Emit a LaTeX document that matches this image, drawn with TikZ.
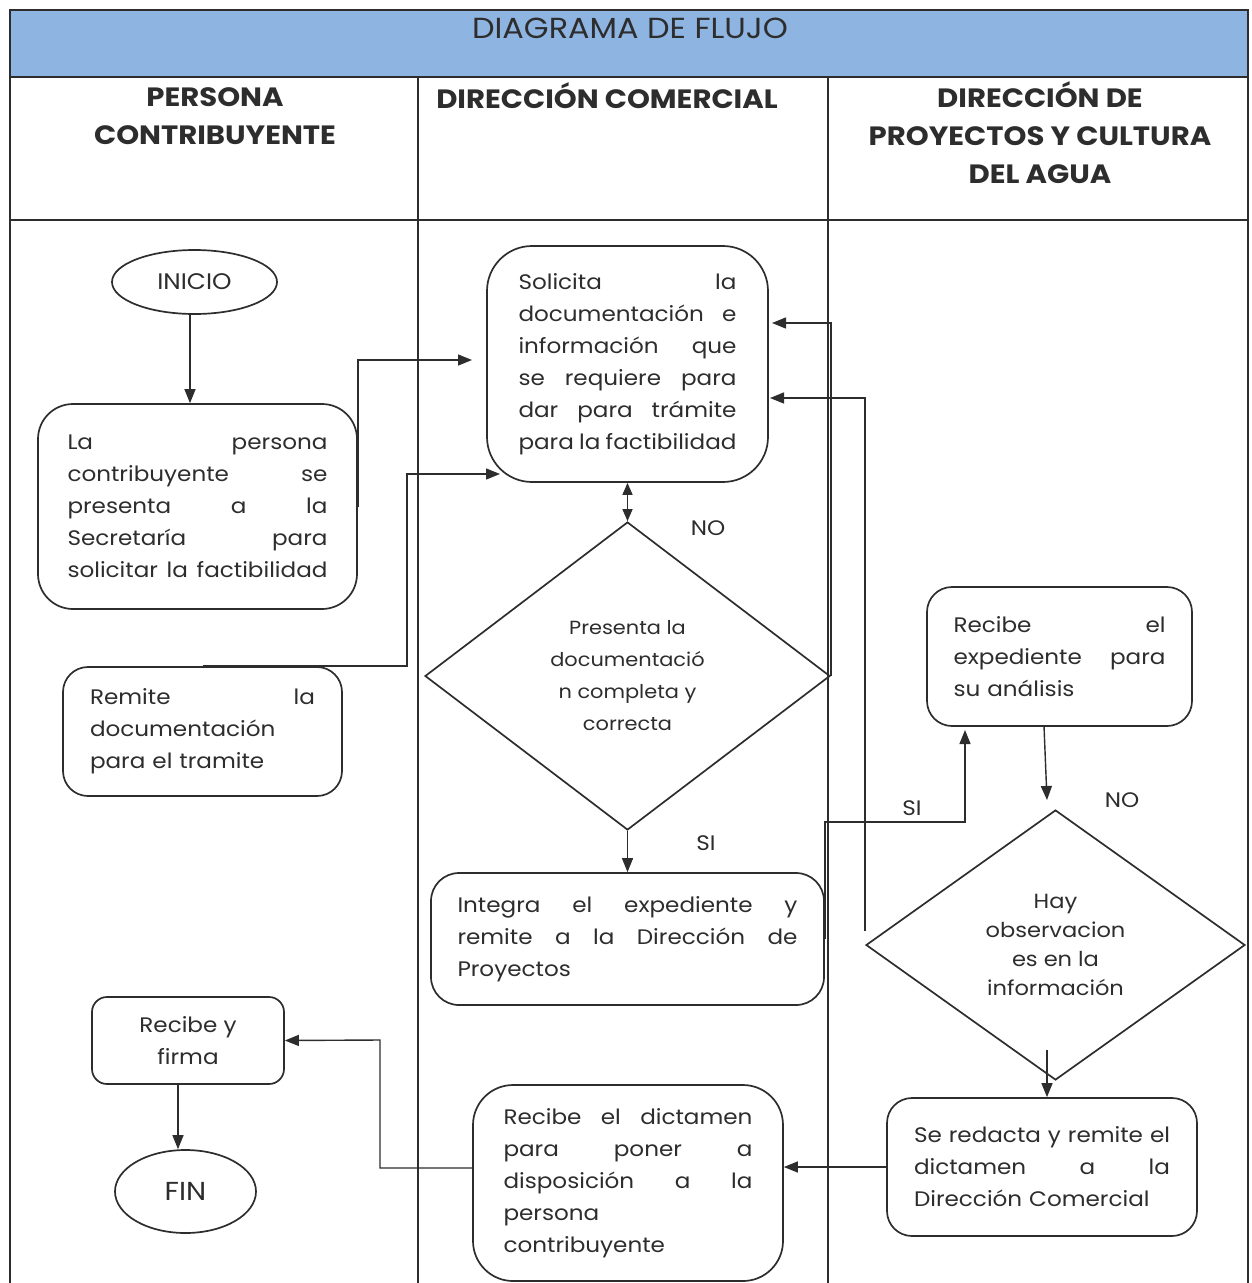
\documentclass[tikz,border=0pt]{standalone}
\usepackage{fontspec}
\setmainfont{Poppins}[FakeStretch=1.1]
\usetikzlibrary{arrows.meta,shapes.geometric,calc}
\definecolor{ink}{RGB}{45,45,45}
\definecolor{band}{RGB}{142,180,226}

\begin{document}
\begin{tikzpicture}[x=1pt,y=-1pt,
  every node/.style={text=ink},
  body/.style={font=\fontsize{21}{32}\selectfont},
  head/.style={font=\fontsize{26.5}{38}\selectfont\bfseries, align=center},
  proc/.style={draw=ink, line width=1.7pt, body, align=left, inner sep=0pt},
  term/.style={draw=ink, line width=1.7pt, ellipse, inner sep=0pt},
  decision/.style={draw=ink, line width=1.7pt, diamond, inner sep=0pt, align=center},
  grid/.style={draw=ink, line width=1.2pt},
  link/.style={draw=ink, line width=1.4pt},
  arr/.style={link, -{Triangle[length=14pt,width=11pt]}},
  arrboth/.style={link, {Triangle[length=12pt,width=10pt]}-{Triangle[length=12pt,width=10pt]}},
  lbl/.style={font=\fontsize{21}{24}\selectfont}
]
\useasboundingbox (0,0) rectangle (1251,1283);

% swimlane table
\fill[band] (10,10) rectangle (1248,77);
\draw[grid] (10,1283) -- (10,10) -- (1248,10) -- (1248,1283);
\draw[draw=ink, line width=2pt] (10,77) -- (1248,77);
\draw[grid] (10,220) -- (1248,220);
\draw[grid] (418,77) -- (418,1283);
\draw[grid] (828,77) -- (828,1283);

\node[font=\fontsize{29}{32}\selectfont] (title) at (630,28) {DIAGRAMA DE FLUJO};
\node[head] (lane1) at (215,116) {PERSONA\\CONTRIBUYENTE};
\node[head] (lane2) at (607,96) {DIRECCIÓN COMERCIAL};
\node[head] (lane3) at (1040,133) {DIRECCIÓN DE\\PROYECTOS Y CULTURA\\DEL AGUA};

% process steps
\node[term, minimum width=165, minimum height=64, font=\fontsize{22.5}{26}\selectfont] (inicio) at (194.5,282) {INICIO};

\node[proc, rounded corners=35pt, minimum width=319, minimum height=205, text width=260] (lapersona) at (197.5,506.5)
  {La\hfill persona\\contribuyente\hfill se\\presenta\hfill a\hfill la\\Secretaría\hfill para\\solicitar\hfill la\hfill factibilidad};

\node[proc, rounded corners=25pt, minimum width=279, minimum height=129, text width=225] (remite) at (202.5,731.5)
  {Remite\hfill la\\documentación\\para el tramite};

\node[proc, rounded corners=45pt, minimum width=281, minimum height=236, text width=218] (solicita) at (627.5,364)
  {Solicita\hfill la\\documentación\hfill e\\información\hfill que\\se\hfill requiere\hfill para\\dar\hfill para\hfill trámite\\para\hfill la\hfill factibilidad};

\node[decision, minimum width=405, minimum height=308, font=\fontsize{19}{32}\selectfont] (dia1) at (627.5,676)
  {Presenta la\\documentació\\n completa y\\correcta};

\node[proc, rounded corners=28pt, minimum width=393, minimum height=132, text width=340] (integra) at (627.5,939)
  {Integra\hfill el\hfill expediente\hfill y\\remite\hfill a\hfill la\hfill Dirección\hfill de\\Proyectos};

\node[proc, rounded corners=25pt, minimum width=265, minimum height=139, text width=212] (recibeexp) at (1059.5,656.5)
  {Recibe\hfill el\\expediente\hfill para\\su análisis};

\node[decision, minimum width=379, minimum height=270, font=\fontsize{20.5}{29}\selectfont] (dia2) at (1055.5,945)
  {Hay\\observacion\\es en la\\información};

\node[proc, rounded corners=25pt, minimum width=310, minimum height=138, text width=256] (seredacta) at (1042,1167)
  {Se\hfill redacta\hfill y\hfill remite\hfill el\\dictamen\hfill a\hfill la\\Dirección Comercial};

\node[proc, rounded corners=40pt, minimum width=310, minimum height=196, text width=249] (dictamen) at (628,1183)
  {Recibe\hfill el\hfill dictamen\\para\hfill poner\hfill a\\disposición\hfill a\hfill la\\persona\\contribuyente};

\node[proc, rounded corners=15pt, minimum width=192, minimum height=87, align=center] (firma) at (188,1040.5)
  {Recibe y\\firma};

\node[term, minimum width=141, minimum height=83, font=\fontsize{26}{30}\selectfont] (fin) at (185.5,1191.5) {FIN};

% branch labels
\node[lbl] (no1) at (708,528) {NO};
\node[lbl] (si1) at (706,843) {SI};
\node[lbl] (si2) at (912,808) {SI};
\node[lbl] (no2) at (1122,800) {NO};

% connector end points
\coordinate (solIn1) at (472,360);
\coordinate (bendR) at (407,474);
\coordinate (solIn2) at (500,474);
\coordinate (solIn3) at (772,323);
\coordinate (solIn4) at (770,398);
\coordinate (siA) at (965,822);
\coordinate (siB) at (965,730);
\coordinate (expOut) at (1044,726);
\coordinate (diaIn) at (1047,800);
\coordinate (diaOut) at (1047,1050);
\coordinate (dicOut) at (473,1168);
\coordinate (bendF) at (380,1040);

% connectors
\draw[arr] (inicio.south -| 190,0) -- (lapersona.north -| 190,0);
\draw[arr] (lapersona.east) |- (solIn1);
\draw[arr] (remite.north) -| (bendR) -- (solIn2);
\draw[arrboth] (dia1.north) -- (solicita.south);
\draw[arr] (dia1.east) |- (solIn3);
\draw[arr] ($(dia2.west)+(0,-14)$) |- (solIn4);
\draw[arr] (dia1.south) -- (integra.north);
\draw[arr] (integra.east) |- (siA) -- (siB);
\draw[arr] (expOut) -- (diaIn);
\draw[arr] (diaOut) -- (seredacta.north -| diaOut);
\draw[arr] (seredacta.west) -- (dictamen.east |- seredacta.west);
\draw[arr] (dicOut) -| (bendF) -- (firma.east);
\draw[arr] (firma.south -| 178,0) -- (fin.north -| 178,0);
\end{tikzpicture}
\end{document}
